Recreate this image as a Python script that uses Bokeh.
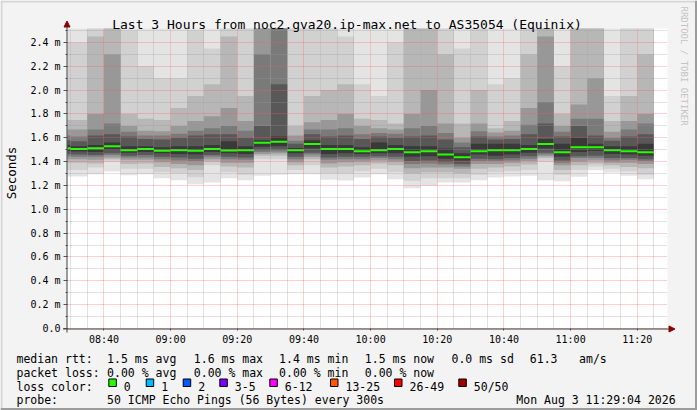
import math
import datetime as dt
from bokeh.plotting import figure
from bokeh.models import (Range1d, FixedTicker, Label, Arrow, NormalHead,
                          BoxAnnotation, ColumnDataSource, PrintfTickFormatter,
                          DatetimeTickFormatter)
from bokeh.embed import file_html
from bokeh.resources import INLINE

# ------------------------------------------------------------------ data
title_text = "Last 3 Hours from noc2.gva20.ip-max.net to AS35054 (Equinix)"
y_axis_title = "Seconds"
watermark = "RRDTOOL / TOBI OETIKER"
graph_day = (2026, 8, 3)
window_start = "08:29:04"
window_end = "11:29:04"
y_top_ms = 2.517

step_ends = ["08:30", "08:35", "08:40", "08:45", "08:50", "08:55", "09:00", "09:05",
             "09:10", "09:15", "09:20", "09:25", "09:30", "09:35", "09:40", "09:45",
             "09:50", "09:55", "10:00", "10:05", "10:10", "10:15", "10:20", "10:25",
             "10:30", "10:35", "10:40", "10:45", "10:50", "10:55", "11:00", "11:05",
             "11:10", "11:15", "11:20", "11:25"]

median_rtt = [1.513, 1.505, 1.513, 1.530, 1.496, 1.505, 1.491, 1.496, 1.491, 1.505,
              1.494, 1.496, 1.558, 1.566, 1.496, 1.547, 1.505, 1.505, 1.488, 1.496,
              1.505, 1.479, 1.488, 1.460, 1.437, 1.488, 1.496, 1.496, 1.505, 1.547,
              1.479, 1.521, 1.521, 1.496, 1.488, 1.479]

# sorted-ping smoke: value of the n-th highest (hi_pn) / n-th lowest (lo_pn) ping
hi_p1 = [2.8, 2.8, 3.0, 3.2, 2.8, 2.7, 2.7, 2.7, 2.8, 2.7, 3.0, 2.8, 3.4, 3.6, 2.8, 2.8,
         2.9, 2.8, 2.7, 2.55, 2.7, 3.0, 3.0, 3.0, 2.7, 2.9, 2.7, 2.7, 3.0, 3.2, 2.8, 3.0,
         3.1, 2.6, 2.9, 3.0]
hi_p3 = [2.4, 2.4, 2.9, 3.0, 2.5, 2.2, 2.1, 2.1, 2.5, 2.35, 2.8, 2.6, 3.2, 3.4, 2.6, 2.55,
         2.7, 2.45, 2.05, 1.95, 2.4, 2.9, 2.9, 2.8, 2.35, 2.7, 2.05, 2.1, 2.8, 3.0, 2.2, 2.9,
         3.0, 1.95, 2.7, 2.8]
hi_p6 = [1.75, 1.75, 2.45, 2.8, 1.80, 1.76, 1.75, 1.85, 1.95, 2.05, 2.45, 1.95, 3.0, 3.2,
         1.70, 1.95, 2.0, 2.05, 1.76, 1.75, 1.72, 2.7, 2.8, 2.3, 1.72, 2.0, 1.68, 1.74, 2.3,
         2.8, 1.80, 2.7, 2.8, 1.74, 1.95, 2.3]
hi_p10 = [1.67, 1.67, 1.80, 2.3, 1.70, 1.66, 1.655, 1.70, 1.74, 1.78, 1.85, 1.74, 2.9, 3.0,
          1.62, 1.73, 1.75, 1.80, 1.70, 1.68, 1.67, 1.80, 2.0, 1.72, 1.60, 1.72, 1.645, 1.66,
          1.85, 2.45, 1.70, 1.88, 2.1, 1.65, 1.74, 1.80]
hi_p14 = [1.62, 1.61, 1.67, 1.72, 1.65, 1.62, 1.62, 1.635, 1.66, 1.68, 1.70, 1.66, 2.3, 2.9,
          1.575, 1.67, 1.67, 1.68, 1.63, 1.64, 1.635, 1.68, 1.70, 1.64, 1.56, 1.655, 1.61,
          1.62, 1.71, 1.90, 1.65, 1.76, 1.76, 1.60, 1.67, 1.72]
hi_p18 = [1.58, 1.57, 1.62, 1.63, 1.61, 1.59, 1.585, 1.60, 1.62, 1.63, 1.63, 1.60, 1.70, 2.05,
          1.55, 1.63, 1.61, 1.62, 1.59, 1.61, 1.60, 1.61, 1.62, 1.585, 1.52, 1.61, 1.585,
          1.59, 1.63, 1.72, 1.61, 1.70, 1.62, 1.575, 1.61, 1.63]
hi_p23 = [1.54, 1.53, 1.54, 1.56, 1.53, 1.53, 1.52, 1.53, 1.53, 1.54, 1.57, 1.53, 1.58, 1.61,
          1.515, 1.58, 1.54, 1.54, 1.52, 1.56, 1.54, 1.53, 1.53, 1.51, 1.47, 1.55, 1.55, 1.55,
          1.54, 1.59, 1.55, 1.60, 1.55, 1.53, 1.53, 1.55]
lo_p1 = [1.275, 1.275, 1.295, 1.317, 1.286, 1.295, 1.261, 1.244, 1.211, 1.225, 1.261, 1.244,
         1.281, 1.29, 1.295, 1.295, 1.248, 1.242, 1.267, 1.295, 1.253, 1.177, 1.197, 1.225,
         1.225, 1.244, 1.267, 1.275, 1.281, 1.244, 1.236, 1.273, 1.328, 1.309, 1.281, 1.253]
lo_p3 = [1.33, 1.33, 1.35, 1.40, 1.34, 1.34, 1.31, 1.30, 1.27, 1.37, 1.31, 1.29, 1.42, 1.42,
         1.33, 1.37, 1.30, 1.30, 1.32, 1.34, 1.31, 1.24, 1.26, 1.26, 1.26, 1.29, 1.31, 1.32,
         1.33, 1.40, 1.29, 1.33, 1.36, 1.34, 1.32, 1.29]
lo_p6 = [1.39, 1.39, 1.385, 1.42, 1.38, 1.385, 1.355, 1.345, 1.33, 1.40, 1.36, 1.35, 1.45,
         1.45, 1.37, 1.42, 1.35, 1.36, 1.37, 1.385, 1.37, 1.30, 1.31, 1.31, 1.30, 1.34, 1.35,
         1.36, 1.375, 1.43, 1.33, 1.37, 1.385, 1.37, 1.355, 1.345]
lo_p10 = [1.42, 1.42, 1.415, 1.435, 1.415, 1.415, 1.395, 1.38, 1.37, 1.42, 1.39, 1.39, 1.465,
          1.47, 1.395, 1.44, 1.385, 1.395, 1.40, 1.41, 1.40, 1.345, 1.35, 1.35, 1.34, 1.38,
          1.38, 1.39, 1.405, 1.445, 1.37, 1.40, 1.41, 1.39, 1.39, 1.38]
lo_p14 = [1.445, 1.44, 1.44, 1.455, 1.435, 1.435, 1.42, 1.41, 1.405, 1.44, 1.42, 1.415, 1.48,
          1.485, 1.42, 1.46, 1.415, 1.42, 1.42, 1.43, 1.42, 1.38, 1.385, 1.375, 1.36, 1.405,
          1.405, 1.41, 1.425, 1.46, 1.39, 1.43, 1.43, 1.41, 1.415, 1.405]
lo_p18 = [1.465, 1.46, 1.455, 1.47, 1.45, 1.455, 1.44, 1.435, 1.425, 1.455, 1.44, 1.435, 1.495,
          1.50, 1.44, 1.475, 1.435, 1.44, 1.44, 1.445, 1.44, 1.405, 1.41, 1.395, 1.38, 1.425,
          1.42, 1.43, 1.445, 1.475, 1.41, 1.445, 1.45, 1.43, 1.43, 1.42]
lo_p23 = [1.49, 1.485, 1.48, 1.50, 1.475, 1.48, 1.47, 1.465, 1.46, 1.48, 1.47, 1.465, 1.525,
          1.53, 1.47, 1.51, 1.465, 1.47, 1.465, 1.47, 1.47, 1.44, 1.445, 1.425, 1.41, 1.46,
          1.45, 1.46, 1.475, 1.51, 1.44, 1.48, 1.49, 1.465, 1.46, 1.45]

x_tick_labels = ["08:40", "09:00", "09:20", "09:40", "10:00", "10:20", "10:40", "11:00", "11:20"]
y_ticks = [0.0, 0.2, 0.4, 0.6, 0.8, 1.0, 1.2, 1.4, 1.6, 1.8, 2.0, 2.2, 2.4]
y_tick_labels = ["0.0", "0.2 m", "0.4 m", "0.6 m", "0.8 m", "1.0 m", "1.2 m", "1.4 m",
                 "1.6 m", "1.8 m", "2.0 m", "2.2 m", "2.4 m"]
y_minor_ticks = [0.1, 0.3, 0.5, 0.7, 0.9, 1.1, 1.3, 1.5, 1.7, 1.9, 2.1, 2.3, 2.5]

rtt_items = ["median rtt:", "1.5 ms avg", "1.6 ms max", "1.4 ms min", "1.5 ms now",
             "0.0 ms sd", "61.3", "am/s"]
loss_items = ["packet loss:", "0.00 % avg", "0.00 % max", "0.00 % min", "0.00 % now"]
loss_color_title = "loss color:"
loss_labels = ["0", "1", "2", "3-5", "6-12", "13-25", "26-49", "50/50"]
loss_colors = ["#26ff00", "#00b8ff", "#0059ff", "#7e00ff", "#ff00ff", "#ff5500", "#ff0000", "#a10000"]
probe_items = ["probe:", "50 ICMP Echo Pings (56 Bytes) every 300s"]
stamp_text = "Mon Aug  3 11:29:04 2026"

# ------------------------------------------------------------------ layout / style
EPOCH = dt.datetime(1970, 1, 1)


def to_ms(hhmmss):
    parts = [int(v) for v in hhmmss.split(":")]
    while len(parts) < 3:
        parts.append(0)
    return (dt.datetime(*graph_day, *parts) - EPOCH).total_seconds() * 1000.0


t0 = to_ms(window_start)
t1 = to_ms(window_end)
STEP = 300000.0

W, H = 697, 410
FX0, FX1, FY0, FY1 = 67.0, 667.0, 28.0, 328.0   # data area in canvas pixels


def xd(px):
    return t0 + (px - FX0) / (FX1 - FX0) * (t1 - t0)


def yd(py):
    return (FY1 - py) / (FY1 - FY0) * y_top_ms


MONO = "DejaVu Sans Mono"
BG = "#f3f3f3"

p = figure(width=W, height=H, title=None, output_backend="svg", toolbar_location=None,
           x_axis_type="datetime", x_range=Range1d(xd(0), xd(W)), y_range=Range1d(yd(H), yd(0)),
           min_border=0, min_border_left=0, min_border_right=0, min_border_top=0,
           min_border_bottom=0, background_fill_color=BG, border_fill_color=BG,
           outline_line_color=None)

# image frame shading (light top/left, dark bottom/right)
for l, r, t, b, c in [(0, W, 0, 2, "#d6d6d6"), (0, 2, 0, H, "#d6d6d6"),
                      (0, W, H - 2.5, H, "#9c9c9c"), (W - 2.5, W, 0, H, "#9c9c9c")]:
    p.add_layout(BoxAnnotation(left=xd(l), right=xd(r), top=yd(t), bottom=yd(b), fill_color=c,
                               fill_alpha=1.0, line_alpha=0.0, level="underlay"))

# white canvas of the graph
p.add_layout(BoxAnnotation(left=t0, right=t1, bottom=0.0, top=y_top_ms, fill_color="#ffffff",
                           fill_alpha=1.0, line_alpha=0.0, level="underlay"))

# smoke (clipped to the graph window as rrdtool does)
ends = [to_ms(s) for s in step_ends]
lefts = [max(e - STEP, t0) for e in ends]
bands = [(lo_p1, hi_p1, "#e4e4e4"), (lo_p3, hi_p3, "#d1d1d1"), (lo_p6, hi_p6, "#b7b7b7"),
         (lo_p10, hi_p10, "#989898"), (lo_p14, hi_p14, "#7a7a7a"), (lo_p18, hi_p18, "#585858"),
         (lo_p23, hi_p23, "#393939")]
for lo, hi, col in bands:
    src = ColumnDataSource(dict(left=lefts, right=ends, bottom=lo,
                                top=[min(v, y_top_ms) for v in hi]))
    p.quad(left="left", right="right", bottom="bottom", top="top", source=src,
           fill_color=col, line_color=None)

half_px = y_top_ms / (FY1 - FY0)
msrc = ColumnDataSource(dict(left=lefts, right=ends,
                             bottom=[m - half_px for m in median_rtt],
                             top=[m + half_px for m in median_rtt]))
p.quad(left="left", right="right", bottom="bottom", top="top", source=msrc,
       fill_color="#26ff00", line_color=None)

# axes fixed on the graph edges, ticks & grid
p.xaxis.fixed_location = 0.0
p.yaxis.fixed_location = t0
xt = FixedTicker(ticks=[to_ms(s) for s in x_tick_labels],
                 minor_ticks=[to_ms(s) for s in step_ends if s not in x_tick_labels])
yt = FixedTicker(ticks=y_ticks, minor_ticks=y_minor_ticks)
p.xaxis.ticker = xt
p.xgrid.ticker = xt
p.yaxis.ticker = yt
p.ygrid.ticker = yt
p.xaxis.bounds = (t0, t1)
p.yaxis.bounds = (0.0, y_top_ms)
p.xgrid.cross_bounds = (0.0, y_top_ms)
p.ygrid.cross_bounds = (t0, t1)
for g in (p.xgrid, p.ygrid):
    g.grid_line_color = "#ff5a5a"
    g.grid_line_alpha = 0.6
    g.grid_line_dash = "1 1"
    g.minor_grid_line_color = "#9a9a9a"
    g.minor_grid_line_alpha = 0.6
    g.minor_grid_line_dash = "1 1"
    g.level = "guide"

p.xaxis.formatter = DatetimeTickFormatter(minutes="%H:%M", hourmin="%H:%M", hours="%H:%M")
p.xaxis.major_label_overrides = {to_ms(s): s for s in x_tick_labels}
p.yaxis.formatter = PrintfTickFormatter(format="%.1f m")
p.yaxis.major_label_overrides = dict(zip(y_ticks, y_tick_labels))

for ax in (p.xaxis, p.yaxis):
    ax.axis_line_color = None
    ax.major_tick_in = 0
    ax.minor_tick_in = 0
    ax.major_tick_line_color = "#555555"
    ax.minor_tick_line_color = "#555555"
    ax.major_label_text_font = MONO
    ax.major_label_text_font_size = "10px"
    ax.major_label_text_color = "#000000"
p.xaxis.major_tick_out = 2
p.xaxis.minor_tick_out = 0
p.xaxis.major_label_standoff = 3
p.yaxis.major_tick_out = 4
p.yaxis.minor_tick_out = 2
p.yaxis.major_label_standoff = 3

# axis lines with arrows
ARROW = "#8b0000"
p.add_layout(Arrow(end=NormalHead(size=6, fill_color=ARROW, line_color=ARROW),
                   x_start=xd(66.5), y_start=yd(332), x_end=xd(66.5), y_end=yd(20.5),
                   line_color="#404040", line_width=1))
p.add_layout(Arrow(end=NormalHead(size=6, fill_color=ARROW, line_color=ARROW),
                   x_start=xd(62.5), y_start=yd(328.5), x_end=xd(674.5), y_end=yd(328.5),
                   line_color="#404040", line_width=1))


def txt(s, px, py, size, align="left", color="#000000", angle=0.0, baseline="alphabetic"):
    p.add_layout(Label(x=xd(px), y=yd(py), text=s, text_font=MONO, text_font_size=size,
                       text_color=color, text_align=align, text_baseline=baseline,
                       angle=angle))


txt(title_text, 346.5, 24, "13px", align="center")
txt(y_axis_title, 10.5, 172.5, "12.5px", align="center", angle=math.pi / 2, baseline="middle")
txt(watermark, 683.5, 6, "9px", color="#c4c4c4", angle=-math.pi / 2)

LEG = "11.5px"
rtt_x = [16.0, 106.6, 193.3, 278.6, 364.3, 451.0, 529.3, 578.6]
for s, x in zip(rtt_items, rtt_x):
    txt(s, x, 358.3, LEG)
loss_x = [16.0, 106.6, 193.3, 278.6, 364.3]
for s, x in zip(loss_items, loss_x):
    txt(s, x, 372.0, LEG)
txt(loss_color_title, 16.0, 386.0, LEG)
box_x = [108.3, 145.7, 182.7, 219.3, 269.3, 330.0, 394.0, 458.3]
for lab, col, bx in zip(loss_labels, loss_colors, box_x):
    p.add_layout(BoxAnnotation(left=xd(bx), right=xd(bx + 7.5), top=yd(378.5), bottom=yd(386.0),
                               fill_color=col, fill_alpha=1.0, line_color="#000000",
                               line_alpha=1.0, line_width=1))
    txt(lab, bx + 15.0, 386.0, LEG)
txt(probe_items[0], 16.0, 399.5, LEG)
txt(probe_items[1], 106.6, 399.5, LEG)
txt(stamp_text, 682.0, 399.5, LEG, align="right")

open("out.html", "w").write(file_html(p, INLINE))
